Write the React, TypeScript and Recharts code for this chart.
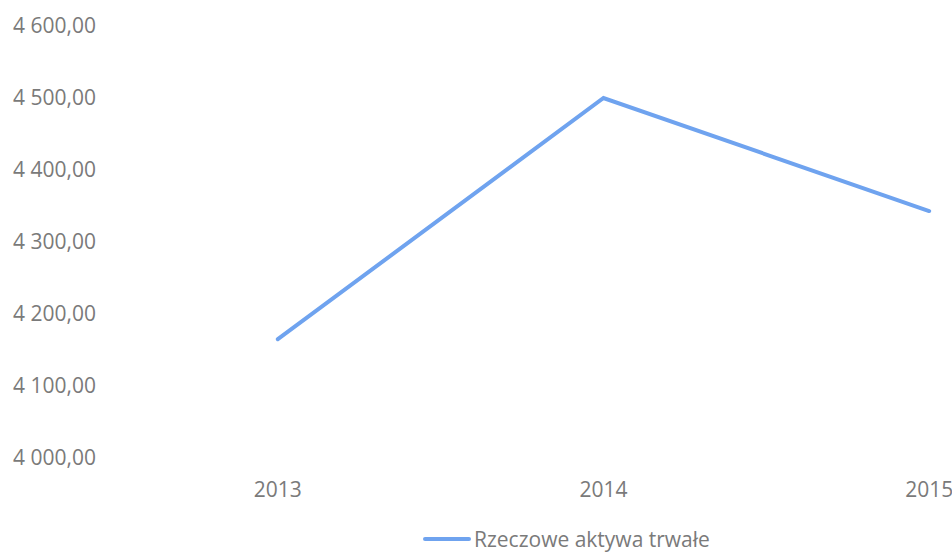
import { Legend, Line, LineChart, XAxis, YAxis } from "recharts";

const years = ["2013", "2014", "2015"];
const rzeczoweAktywa = [4165, 4500, 4343];
const yTicks = [4000, 4100, 4200, 4300, 4400, 4500, 4600];
const seriesName = "Rzeczowe aktywa trwałe";

const data = years.map((year, i) => ({ year, value: rzeczoweAktywa[i] }));

const FONT = "'Open Sans', sans-serif";
const TEXT = "#7a7a7a";
const LINE = "#6fa3ef";

// polish style: "4 600,00"
const fmt = (v: number) => {
  const [int, dec] = v.toFixed(2).split(".");
  return int.replace(/\B(?=(\d{3})+(?!\d))/g, " ") + "," + dec;
};

function YTick({ y, payload }: any) {
  return (
    <text x={13} y={y} dy="0.35em" textAnchor="start" fontFamily={FONT} fontSize={21} fill={TEXT}>
      {fmt(payload.value)}
    </text>
  );
}

function XTick({ x, y, payload }: any) {
  return (
    <text x={x} y={y + 24} dy="0.35em" textAnchor="middle" fontFamily={FONT} fontSize={21} fill={TEXT}>
      {payload.value}
    </text>
  );
}

function LegendContent() {
  return (
    <div style={{ display: "flex", alignItems: "center", fontFamily: FONT, fontSize: 21, color: TEXT, whiteSpace: "nowrap" }}>
      <span style={{ display: "inline-block", width: 48, height: 4, background: LINE, borderRadius: 2, marginRight: 3 }} />
      {seriesName}
    </div>
  );
}

export default function App() {
  return (
    <div style={{ position: "fixed", top: 0, left: 0, width: 952, height: 552, overflow: "hidden", background: "#fff" }}>
      <LineChart width={1140} height={552} data={data} margin={{ top: 26, right: 48, bottom: 54, left: 0 }}>
        <XAxis dataKey="year" scale="band" height={40} axisLine={false} tickLine={false} tick={<XTick />} interval={0} />
        <YAxis
          width={115}
          domain={[4000, 4600]}
          ticks={yTicks}
          axisLine={false}
          tickLine={false}
          tick={<YTick />}
          interval={0}
        />
        <Legend
          layout="horizontal"
          verticalAlign="middle"
          content={<LegendContent />}
          wrapperStyle={{ position: "absolute", top: 525, left: 423, width: "auto" }}
        />
        <Line
          dataKey="value"
          name={seriesName}
          stroke={LINE}
          strokeWidth={4}
          dot={false}
          activeDot={false}
          strokeLinecap="round"
          isAnimationActive={false}
        />
      </LineChart>
    </div>
  );
}
